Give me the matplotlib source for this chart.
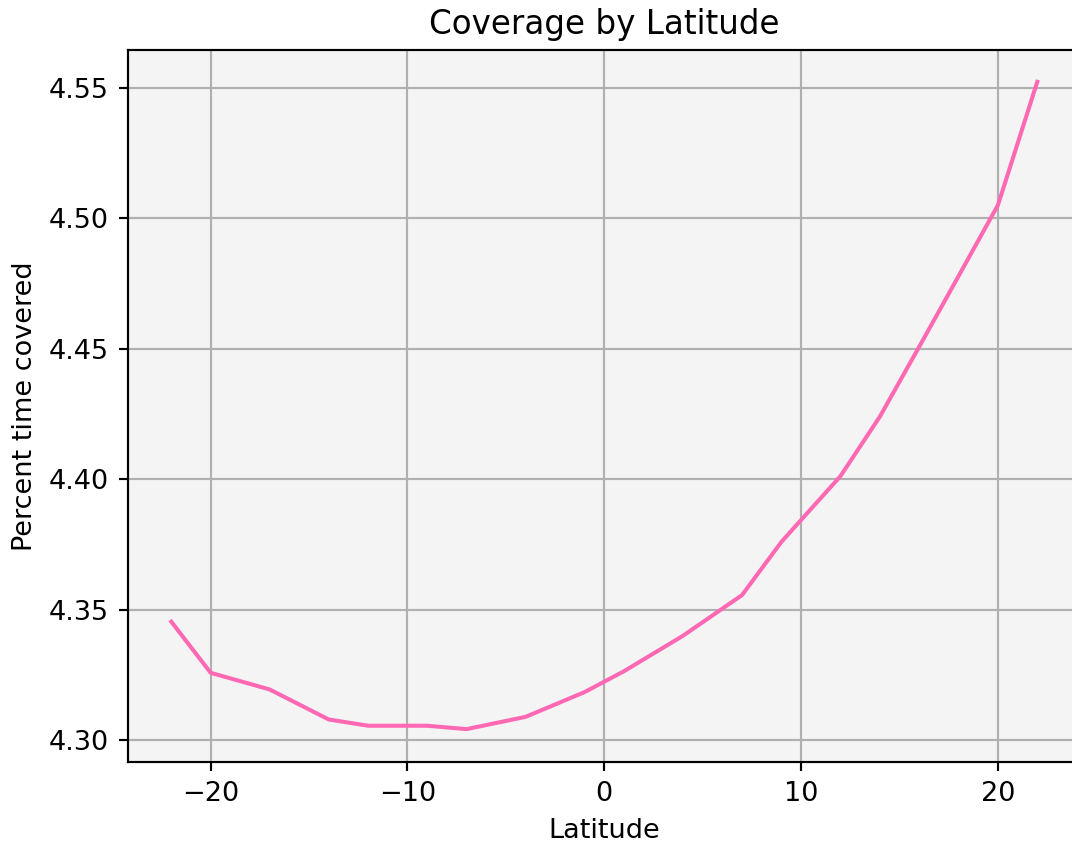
import matplotlib
matplotlib.use("Agg")
import matplotlib.pyplot as plt

# latitude vs percent time covered
latitude = [-22, -20, -17, -14, -12, -9, -7, -4, -1, 1, 4, 7, 9, 12, 14, 16, 18, 20, 22]
coverage = [4.3454, 4.3258, 4.3194, 4.3079, 4.3055, 4.3055, 4.3042, 4.3089, 4.3184,
            4.3264, 4.3400, 4.3556, 4.3760, 4.4012, 4.4240, 4.4508, 4.4779, 4.5051, 4.5524]

dpi = 195
fig = plt.figure(figsize=(1072 / dpi, 843 / dpi), dpi=dpi)
# axes runs past the right edge like in the original (cropped)
ax = fig.add_axes([0.1194, 0.0961, 0.8886, 0.8446])
ax.set_facecolor("#f4f4f4")
ax.plot(latitude, coverage, color="#ff69b4", linewidth=1.5)
ax.grid(True, color="#b0b0b0", linewidth=0.8)
ax.set_axisbelow(True)

ax.set_xlim(-24.2, 24.2)
ax.set_ylim(4.2916, 4.5646)
ax.set_yticks([4.30, 4.35, 4.40, 4.45, 4.50, 4.55])
ax.set_yticklabels(["4.30", "4.35", "4.40", "4.45", "4.50", "4.55"])

ax.set_title("Coverage by Latitude", fontsize=12)
ax.set_xlabel("Latitude")
ax.set_ylabel("Percent time covered")

fig.savefig("out.png", dpi=dpi)
